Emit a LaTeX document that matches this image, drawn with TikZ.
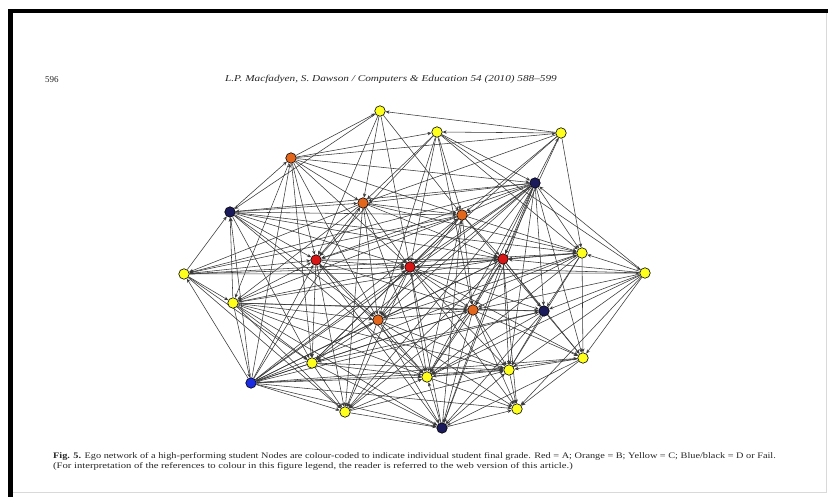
\documentclass[tikz,border=0pt]{standalone}
\usepackage{fontspec}
\setmainfont{Liberation Serif}
\usetikzlibrary{arrows.meta,backgrounds}
\definecolor{cy}{HTML}{FFFF1E}
\definecolor{co}{HTML}{E2661C}
\definecolor{cr}{HTML}{D81616}
\definecolor{cn}{HTML}{1B1B5C}
\definecolor{cb}{HTML}{1C2CE0}
\tikzset{
  vtx/.style={circle,draw=black,line width=0.6pt,minimum size=10.5pt,inner sep=0pt},
  yv/.style={vtx,fill=cy},
  ov/.style={vtx,fill=co},
  rv/.style={vtx,fill=cr},
  nv/.style={vtx,fill=cn},
  bv/.style={vtx,fill=cb},
  edge/.style={draw=black!78,line width=0.55pt,-{Stealth[length=4pt,width=3.4pt]}},
  txt/.style={inner sep=0pt,text=black!85}
}
\begin{document}
\begin{tikzpicture}[x=1pt,y=-1pt]
\useasboundingbox (0,0) rectangle (828,497);
% texts
\node[txt,anchor=west] (pg) at (45,79.5) {\fontsize{9}{10}\selectfont 596};
\node[txt] (hd) at (391,79.5) {\scalebox{1.25}[1]{\fontsize{9}{10}\selectfont\itshape L.P. Macfadyen, S. Dawson / Computers \& Education 54 (2010) 588--599}};
\node[txt,anchor=west] (cap1) at (53,456) {\scalebox{1.21}[1]{\fontsize{8.5}{9}\selectfont \textbf{Fig. 5.} Ego network of a high-performing student Nodes are colour-coded to indicate individual student final grade. Red = A; Orange = B; Yellow = C; Blue/black = D or Fail.}};
\node[txt,anchor=west] (cap2) at (53,466.5) {\scalebox{1.25}[1]{\fontsize{8.5}{9}\selectfont (For interpretation of the references to colour in this figure legend, the reader is referred to the web version of this article.)}};
% nodes
\node[yv] (n1) at (380,111) {};
\node[yv] (n2) at (437,132) {};
\node[yv] (n3) at (561,133) {};
\node[ov] (n4) at (291,158) {};
\node[nv] (n5) at (535,183) {};
\node[nv] (n6) at (230,212) {};
\node[ov] (n7) at (363,203) {};
\node[ov] (n8) at (462,215) {};
\node[yv] (n9) at (582,253) {};
\node[yv] (n10) at (645,273) {};
\node[yv] (n11) at (184,274) {};
\node[rv] (n12) at (316,260) {};
\node[rv] (n13) at (410,267) {};
\node[rv] (n14) at (503,259) {};
\node[yv] (n15) at (233,303) {};
\node[ov] (n16) at (378,320) {};
\node[ov] (n17) at (473,310) {};
\node[nv] (n18) at (544,311) {};
\node[yv] (n19) at (583,358) {};
\node[yv] (n20) at (312,363) {};
\node[yv] (n21) at (427,377) {};
\node[yv] (n22) at (509,370) {};
\node[bv] (n23) at (251,383) {};
\node[yv] (n24) at (345,412) {};
\node[nv] (n25) at (442,428) {};
\node[yv] (n26) at (517,409) {};
\begin{pgfonlayer}{background}
\fill[white] (0,0) rectangle (828,497);
% frame
\fill[black] (8,9) rectangle (828,13.5);
\fill[black] (8,9) rectangle (13,497);
\draw[black!15,line width=0.6pt] (826,13.5) -- (826,492) -- (13,492);
\foreach \a/\b in {3/1,4/1,1/7,1/13,1/8,1/6,1/12,
 3/2,2/8,2/13,2/5,2/9,2/10,2/7,2/12,2/16,4/2,2/17,
 5/3,3/9,4/3,3/8,3/13,3/14,3/7,
 6/4,4/7,4/12,4/15,4/5,4/8,4/13,4/16,4/20,23/4,
 5/6,5/7,5/8,5/9,10/5,5/13,5/14,5/16,5/17,5/18,5/19,5/21,5/22,5/24,5/25,23/5,5/12,5/20,5/11,
 11/6,15/6,6/7,6/8,6/12,6/13,6/14,6/16,6/20,23/6,6/21,6/9,
 7/12,7/13,7/8,7/16,7/15,7/11,23/7,7/14,7/21,7/9,7/24,
 8/13,8/14,8/12,8/16,8/17,8/9,8/15,23/8,8/21,25/8,8/18,8/11,8/20,
 9/14,9/18,9/19,9/13,9/17,9/21,9/22,11/9,9/16,23/9,10/9,
 10/14,10/13,10/17,10/18,10/19,10/22,10/21,10/26,11/10,
 11/15,23/11,11/12,11/13,11/20,11/24,
 12/13,15/12,12/16,12/20,23/12,12/21,12/24,25/12,12/14,12/17,
 13/14,13/16,13/17,15/13,13/20,13/21,13/22,23/13,13/24,25/13,13/18,13/19,13/26,
 14/17,14/18,14/19,14/22,14/21,25/14,14/16,15/14,23/14,14/26,14/24,
 15/23,15/20,15/16,15/17,15/21,15/24,15/25,15/22,15/18,
 16/17,16/20,16/21,23/16,16/24,16/25,16/22,16/26,
 17/18,17/19,17/21,17/22,23/17,17/25,17/26,17/20,17/24,
 18/19,18/21,18/22,23/18,18/25,18/20,
 19/22,19/21,23/19,19/25,19/26,
 20/21,20/23,20/24,20/25,20/22,
 21/22,23/21,24/21,25/21,21/26,
 22/26,23/22,25/22,24/22,
 23/24,23/25,23/26,24/25,25/26}
 \draw[edge] (n\a) -- (n\b);
\end{pgfonlayer}
\end{tikzpicture}
\end{document}
